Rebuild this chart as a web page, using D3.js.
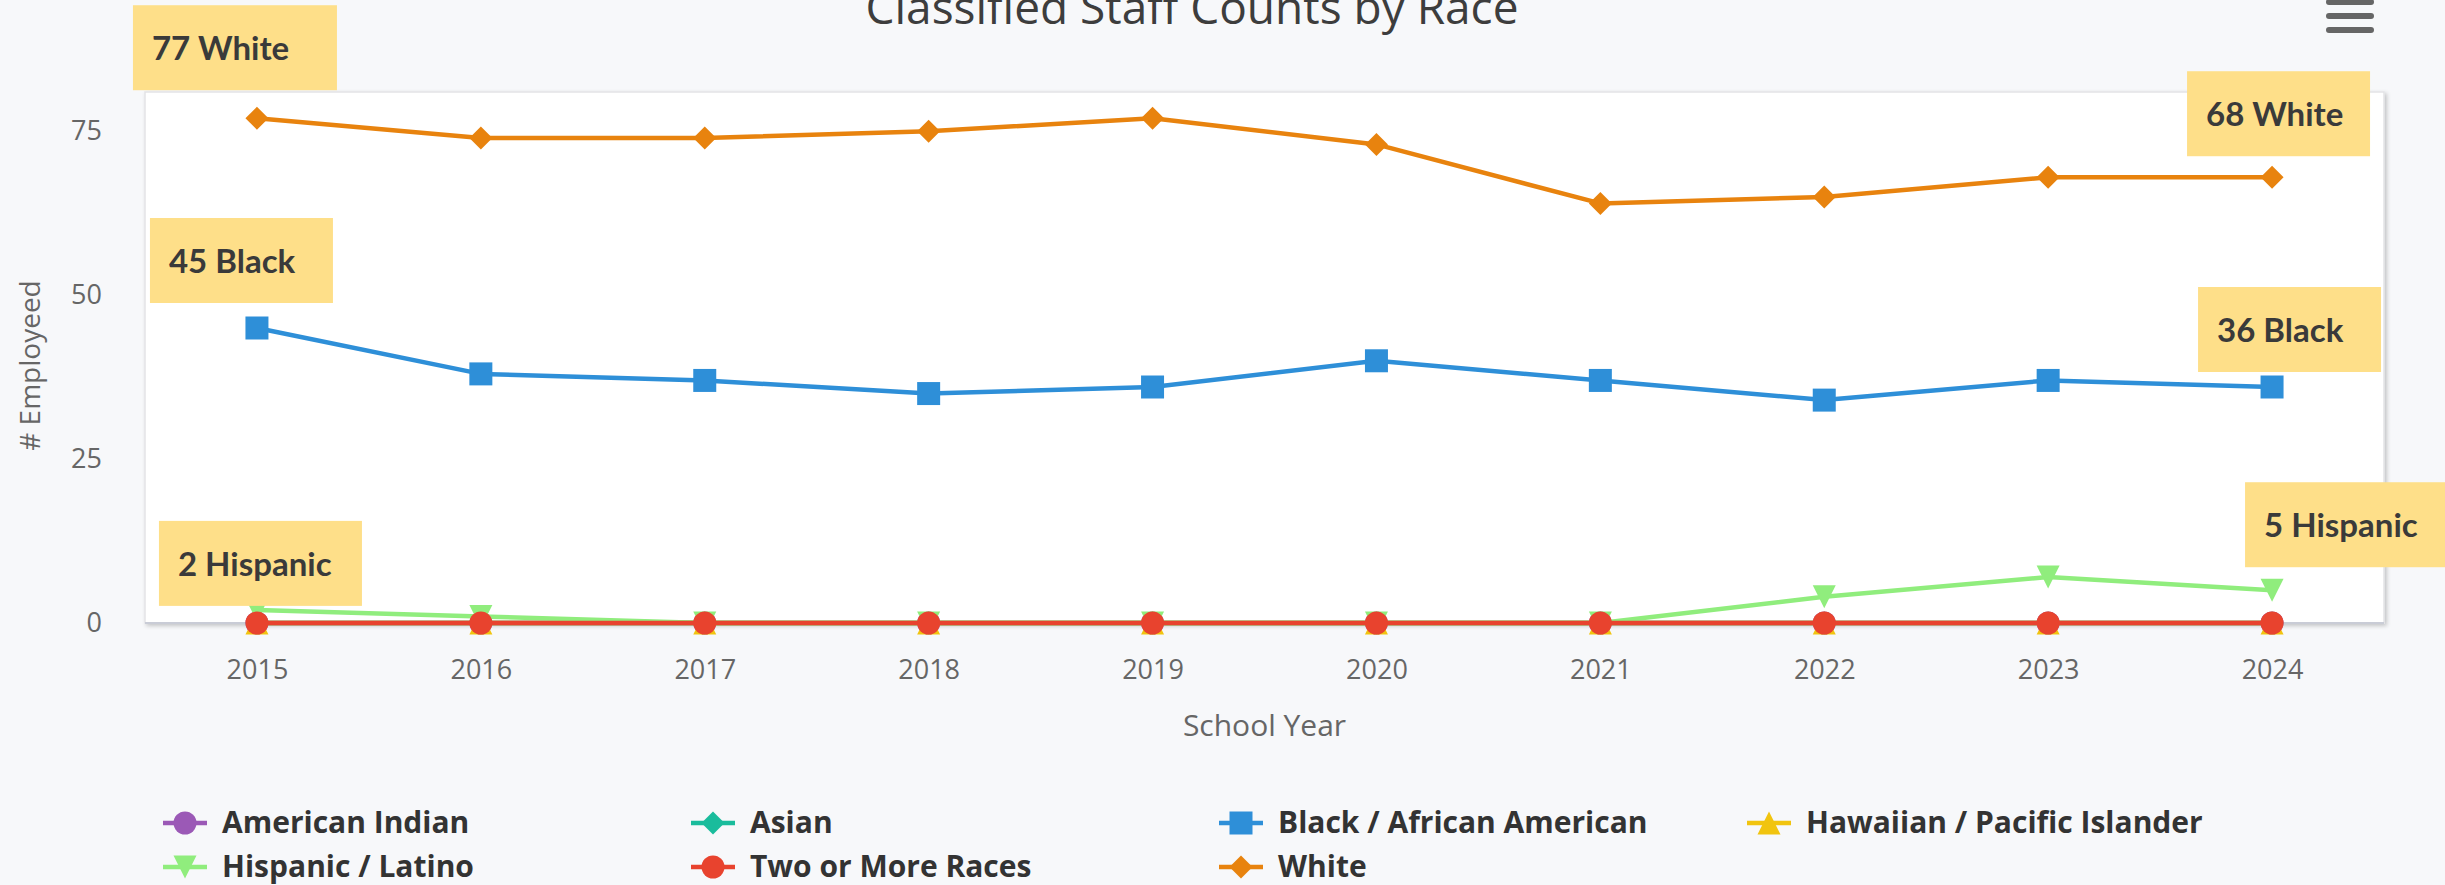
<!DOCTYPE html>
<html>
<head>
<meta charset="utf-8">
<script src="https://cdn.jsdelivr.net/npm/d3@7/dist/d3.min.js"></script>
<style>
  html, body { margin: 0; padding: 0; background: #f7f8fa; }
  svg { display: block; }
</style>
</head>
<body>
<svg id="chart" width="2445" height="885"></svg>
<script>
// ---------------- DATA ----------------
const years = ["2015","2016","2017","2018","2019","2020","2021","2022","2023","2024"];
const seriesNames = ["American Indian","Asian","Black / African American","Hawaiian / Pacific Islander","Hispanic / Latino","Two or More Races","White"];
const americanIndian = [0,0,0,0,0,0,0,0,0,0];
const asian          = [0,0,0,0,0,0,0,0,0,0];
const black          = [45,38,37,35,36,40,37,34,37,36];
const hawaiian       = [0,0,0,0,0,0,0,0,0,0];
const hispanic       = [2,1,0,0,0,0,0,4,7,5];
const twoOrMore      = [0,0,0,0,0,0,0,0,0,0];
const white          = [77,74,74,75,77,73,64,65,68,68];
const yTicks = [0,25,50,75];
const titleText = "Classified Staff Counts by Race";
const xTitle = "School Year";
const yTitle = "# Employeed";
// annotation callouts: [series index, point index, suffix]
const callouts = [
  [6, 0, "White"], [2, 0, "Black"], [4, 0, "Hispanic"],
  [6, 9, "White"], [2, 9, "Black"], [4, 9, "Hispanic"]
];

// ---------------- STYLE / LAYOUT ----------------
const colors = ["#9b59b6","#1abc9c","#2e8fd8","#f1c40f","#90ed7d","#e8432e","#e8830e"];
const symbols = ["circle","diamond","square","triangle","triangle-down","circle","diamond"];
const values = [americanIndian, asian, black, hawaiian, hispanic, twoOrMore, white];
const plot = {left:145, top:92, right:2384, bottom:623};
const font = "'Open Sans', sans-serif";
// callout box geometry (offset of box relative to the anchor point)
const calloutBoxes = [
  {dx:-124, dy:-113, w:204}, {dx:-107, dy:-110, w:183}, {dx:-98, dy:-89, w:203},
  {dx:-85, dy:-106, w:183}, {dx:-74, dy:-100, w:183}, {dx:-27, dy:-108, w:204}
];

const svg = d3.select("#chart");
const W = 2445, H = 885;
svg.append("rect").attr("width", W).attr("height", H).attr("fill", "#f7f8fa");

const defs = svg.append("defs");
const f = defs.append("filter").attr("id","shadow").attr("x","-5%").attr("y","-5%").attr("width","110%").attr("height","115%");
f.append("feDropShadow").attr("dx",2).attr("dy",2).attr("stdDeviation",2).attr("flood-color","#000").attr("flood-opacity",0.22);

// scales
const x = d3.scalePoint().domain(years).range([plot.left, plot.right]).padding(0.5);
const y = d3.scaleLinear().domain([0, 81]).range([plot.bottom, plot.top]);

// plot background
svg.append("rect")
  .attr("x", plot.left).attr("y", plot.top)
  .attr("width", plot.right - plot.left).attr("height", plot.bottom - plot.top)
  .attr("fill", "#ffffff").attr("stroke", "#e3e3e6").attr("stroke-width", 1.5)
  .attr("filter", "url(#shadow)");

// x axis line
svg.append("line")
  .attr("x1", plot.left).attr("x2", plot.right)
  .attr("y1", plot.bottom).attr("y2", plot.bottom)
  .attr("stroke", "#c9ccd6").attr("stroke-width", 2);

// Title
svg.append("text").attr("x", 1192).attr("y", 24).attr("text-anchor","middle")
  .attr("font-family", font).attr("font-size", 46).attr("fill", "#3d3d3d")
  .text(titleText);

// hamburger menu icon
const menu = svg.append("g").attr("fill", "#666666");
[2, 16, 30].forEach(cy => {
  menu.append("rect").attr("x", 2326).attr("y", cy - 3).attr("width", 48).attr("height", 6).attr("rx", 3);
});

// Y axis
const yAxis = d3.axisLeft(y).tickValues(yTicks).tickSize(0).tickPadding(43);
const gy = svg.append("g").attr("transform", `translate(${plot.left},0)`).call(yAxis);
gy.select(".domain").remove();
gy.selectAll("text").attr("font-family", font).attr("font-size", 27).attr("fill", "#666666");

// X axis
const xAxis = d3.axisBottom(x).tickSize(0).tickPadding(37);
const gx = svg.append("g").attr("transform", `translate(0,${plot.bottom})`).call(xAxis);
gx.select(".domain").remove();
gx.selectAll("text").attr("font-family", font).attr("font-size", 27).attr("fill", "#666666");

// Axis titles
svg.append("text").attr("x", (plot.left + plot.right) / 2).attr("y", 736).attr("text-anchor","middle")
  .attr("font-family", font).attr("font-size", 30).attr("fill", "#666666").text(xTitle);
svg.append("text").attr("transform", `translate(40,${(plot.top + plot.bottom) / 2 + 8}) rotate(-90)`)
  .attr("text-anchor","middle").attr("font-family", font).attr("font-size", 28).attr("fill", "#666666").text(yTitle);

// marker symbol types
const R = 11.5;
const symTypes = {
  "circle": {draw(ctx, s){ const r = Math.sqrt(s/Math.PI); ctx.moveTo(r,0); ctx.arc(0,0,r,0,2*Math.PI); }},
  "square": {draw(ctx, s){ const h = Math.sqrt(s)/2; ctx.moveTo(-h,-h); ctx.lineTo(h,-h); ctx.lineTo(h,h); ctx.lineTo(-h,h); ctx.closePath(); }},
  "diamond": {draw(ctx, s){ const h = Math.sqrt(s)/2; ctx.moveTo(0,-h); ctx.lineTo(h,0); ctx.lineTo(0,h); ctx.lineTo(-h,0); ctx.closePath(); }},
  "triangle": {draw(ctx, s){ const h = Math.sqrt(s)/2; ctx.moveTo(0,-h); ctx.lineTo(h,h); ctx.lineTo(-h,h); ctx.closePath(); }},
  "triangle-down": {draw(ctx, s){ const h = Math.sqrt(s)/2; ctx.moveTo(-h,-h); ctx.lineTo(h,-h); ctx.lineTo(0,h); ctx.closePath(); }}
};
const symSize = {"circle": Math.PI*R*R, "square": (2*R)*(2*R), "diamond": (2*R)*(2*R), "triangle": (2*R)*(2*R), "triangle-down": (2*R)*(2*R)};
function symPath(name, scale){ return d3.symbol().type(symTypes[name]).size(symSize[name]*(scale||1))(); }

// series
const line = d3.line().x((d,i) => x(years[i])).y(d => y(d));
values.forEach((vals, si) => {
  const g = svg.append("g");
  g.append("path").attr("d", line(vals)).attr("fill","none")
    .attr("stroke", colors[si]).attr("stroke-width", 4.5).attr("stroke-linejoin","round");
  g.selectAll("path.m").data(vals).enter().append("path").attr("class","m")
    .attr("transform", (d,i) => `translate(${x(years[i])},${y(d)})`)
    .attr("d", symPath(symbols[si])).attr("fill", colors[si]);
});

// legend
const legend = svg.append("g");
seriesNames.forEach((name, i) => {
  const col = i % 4, row = Math.floor(i / 4);
  const gx0 = 163 + col * 528, gy0 = 823 + row * 44;
  const it = legend.append("g").attr("transform", `translate(${gx0},${gy0})`);
  it.append("line").attr("x1", 0).attr("x2", 44).attr("y1", 0).attr("y2", 0)
    .attr("stroke", colors[i]).attr("stroke-width", 4.5);
  it.append("path").attr("transform", "translate(22,0)").attr("d", symPath(symbols[i])).attr("fill", colors[i]);
  it.append("text").attr("x", 59).attr("y", 10).attr("font-family", font).attr("font-weight", 700)
    .attr("font-size", 30).attr("fill", "#333333").text(name);
});

// callouts
callouts.forEach((c, k) => {
  const [si, pi, suffix] = c;
  const px = x(years[pi]), py = y(values[si][pi]);
  const b = calloutBoxes[k];
  const g = svg.append("g").attr("transform", `translate(${px + b.dx},${py + b.dy})`);
  g.append("rect").attr("width", b.w).attr("height", 85).attr("fill", "#fedf89");
  g.append("text").attr("x", 19).attr("y", 55).attr("font-family", "Lato, sans-serif")
    .attr("font-weight", 700).attr("font-size", 33).attr("fill", "#3a3a3a")
    .text(`${values[si][pi]} ${suffix}`);
});
</script>
</body>
</html>
